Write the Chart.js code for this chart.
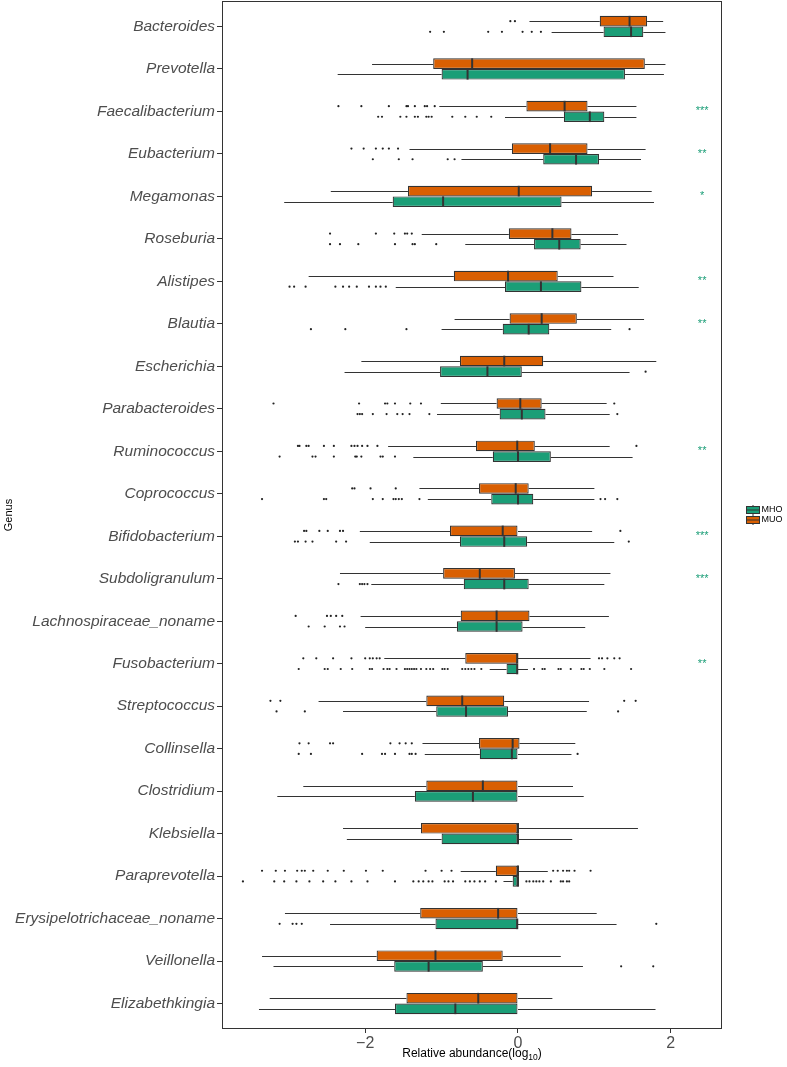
<!DOCTYPE html>
<html>
<head>
<meta charset="utf-8">
<script src="https://cdn.jsdelivr.net/npm/chart.js@4.4.0/dist/chart.umd.min.js"></script>
<style>
  html, body { margin: 0; padding: 0; background: #fff; }
  #wrap { position: relative; width: 787px; height: 1067px; }
</style>
</head>
<body>
<div id="wrap"><canvas id="box_chart"></canvas></div>
<script>
// genera, top to bottom
var genera = ['Bacteroides', 'Prevotella', 'Faecalibacterium', 'Eubacterium', 'Megamonas',
  'Roseburia', 'Alistipes', 'Blautia', 'Escherichia', 'Parabacteroides', 'Ruminococcus',
  'Coprococcus', 'Bifidobacterium', 'Subdoligranulum', 'Lachnospiraceae_noname',
  'Fusobacterium', 'Streptococcus', 'Collinsella', 'Clostridium', 'Klebsiella',
  'Paraprevotella', 'Erysipelotrichaceae_noname', 'Veillonella', 'Elizabethkingia'];

// [lower whisker, q1, median, q3, upper whisker]
var muoBox = [
  [0.15, 1.07, 1.46, 1.69, 1.90], [-1.91, -1.11, -0.60, 1.66, 1.93],
  [-1.03, 0.11, 0.61, 0.91, 1.55], [-1.42, -0.08, 0.42, 0.91, 1.67],
  [-2.45, -1.44, 0.01, 0.97, 1.75], [-1.26, -0.12, 0.45, 0.70, 1.31],
  [-2.74, -0.84, -0.13, 0.52, 1.25], [-0.83, -0.11, 0.31, 0.77, 1.65],
  [-2.05, -0.76, -0.18, 0.33, 1.81], [-1.01, -0.28, 0.03, 0.31, 1.16],
  [-1.70, -0.55, -0.01, 0.22, 1.20], [-1.29, -0.51, -0.03, 0.14, 1.00],
  [-2.07, -0.89, -0.20, 0.00, 0.97], [-2.33, -0.98, -0.50, -0.04, 1.21],
  [-2.06, -0.75, -0.28, 0.15, 1.19], [-1.75, -0.69, -0.01, 0.00, 0.95],
  [-2.61, -1.20, -0.73, -0.18, 0.93], [-1.25, -0.51, -0.07, 0.02, 0.75],
  [-2.81, -1.20, -0.46, 0.00, 0.72], [-2.29, -1.27, 0.00, 0.00, 1.57],
  [-0.75, -0.29, 0.00, 0.00, 0.39], [-3.05, -1.28, -0.26, 0.00, 1.03],
  [-3.35, -1.85, -1.08, -0.20, 0.56], [-3.25, -1.46, -0.52, 0.00, 0.45]
];
var mhoBox = [
  [0.44, 1.12, 1.48, 1.64, 1.93], [-2.36, -1.00, -0.66, 1.40, 1.91],
  [-0.17, 0.60, 0.94, 1.13, 1.55], [-0.74, 0.33, 0.76, 1.06, 1.61],
  [-3.06, -1.64, -0.98, 0.57, 1.78], [-0.69, 0.21, 0.54, 0.82, 1.42],
  [-1.60, -0.17, 0.30, 0.83, 1.58], [-1.00, -0.20, 0.14, 0.41, 1.22],
  [-2.27, -1.02, -0.40, 0.05, 1.46], [-1.06, -0.24, 0.05, 0.36, 1.20],
  [-1.37, -0.33, 0.00, 0.43, 1.50], [-1.18, -0.35, 0.00, 0.20, 1.00],
  [-1.94, -0.76, -0.18, 0.12, 1.26], [-1.92, -0.71, -0.18, 0.14, 1.13],
  [-2.00, -0.80, -0.28, 0.06, 0.88], [-0.37, -0.15, -0.01, 0.00, 0.13],
  [-2.29, -1.07, -0.68, -0.13, 0.90], [-1.22, -0.50, -0.08, 0.00, 0.70],
  [-3.15, -1.35, -0.59, 0.00, 0.86], [-2.24, -1.00, 0.00, 0.00, 0.71],
  [-0.19, -0.07, 0.00, 0.00, 0.00], [-2.46, -1.08, -0.01, 0.00, 1.29],
  [-3.20, -1.62, -1.17, -0.46, 0.85], [-3.39, -1.61, -0.82, 0.00, 1.80]
];

// outliers per genus
var muoOut = [
  [-0.10, -0.04], [],
  [-2.35, -2.05, -1.69, -1.46, -1.44, -1.35, -1.22, -1.19, -1.09],
  [-2.18, -2.02, -1.86, -1.77, -1.69, -1.57], [],
  [-2.46, -1.86, -1.62, -1.48, -1.45, -1.39], [], [], [],
  [-3.20, -2.08, -1.74, -1.71, -1.61, -1.41, -1.27, 1.26],
  [-2.88, -2.86, -2.77, -2.74, -2.54, -2.41, -2.18, -2.14, -2.10, -2.04, -1.97, -1.84, 1.55],
  [-2.17, -2.14, -1.93, -1.60],
  [-2.80, -2.77, -2.60, -2.49, -2.33, -2.29, 1.34], [],
  [-2.91, -2.50, -2.45, -2.38, -2.30],
  [-2.81, -2.64, -2.42, -2.18, -2.00, -1.94, -1.90, -1.85, -1.81, 1.06, 1.10, 1.17, 1.26, 1.33],
  [-3.24, -3.11, 1.39, 1.54],
  [-2.86, -2.74, -2.46, -2.42, -1.67, -1.55, -1.47, -1.39], [], [],
  [-3.35, -3.17, -3.05, -2.89, -2.83, -2.79, -2.68, -2.49, -2.28, -1.99, -1.77, -1.21, -1.00, -0.87,
   0.46, 0.52, 0.59, 0.64, 0.67, 0.74, 0.95],
  [], [], []
];
var mhoOut = [
  [-1.15, -0.97, -0.39, -0.21, 0.06, 0.18, 0.30], [],
  [-1.83, -1.78, -1.54, -1.46, -1.35, -1.31, -1.20, -1.17, -1.13, -0.86, -0.69, -0.54, -0.35],
  [-1.90, -1.56, -1.38, -0.92, -0.83], [],
  [-2.46, -2.33, -2.09, -1.61, -1.38, -1.35, -1.07],
  [-2.99, -2.93, -2.78, -2.39, -2.29, -2.21, -2.11, -1.95, -1.86, -1.80, -1.73],
  [-2.71, -2.26, -1.46, 1.46],
  [1.67],
  [-2.10, -2.07, -2.04, -1.90, -1.72, -1.58, -1.51, -1.42, -1.16, 1.30],
  [-3.12, -2.69, -2.65, -2.41, -2.13, -2.11, -2.05, -1.80, -1.77, -1.61],
  [-3.35, -2.54, -2.51, -1.90, -1.77, -1.63, -1.60, -1.56, -1.52, -1.29, 1.08, 1.14, 1.30],
  [-2.92, -2.88, -2.78, -2.69, -2.38, -2.25, 1.45],
  [-2.35, -2.07, -2.04, -2.01, -1.97],
  [-2.74, -2.53, -2.33, -2.27],
  [-2.87, -2.53, -2.49, -2.32, -2.17, -1.94, -1.91, -1.76, -1.71, -1.68, -1.59, -1.48, -1.45, -1.42,
   -1.39, -1.36, -1.33, -1.27, -1.20, -1.15, -1.11, -0.99, -0.96, -0.92, -0.73, -0.69, -0.65, -0.61,
   -0.57, -0.48, 0.21, 0.32, 0.35, 0.53, 0.56, 0.69, 0.83, 0.86, 0.94, 1.13, 1.48],
  [-3.16, -2.79, 1.31],
  [-2.87, -2.71, -2.04, -1.78, -1.74, -1.61, -1.42, -1.39, -1.34, 0.78], [], [],
  [-3.60, -3.19, -3.06, -2.90, -2.73, -2.55, -2.39, -2.18, -1.97, -1.61, -1.37, -1.30, -1.24, -1.17,
   -1.12, -0.96, -0.91, -0.85, -0.69, -0.63, -0.57, -0.50, -0.43, -0.29, 0.11, 0.15, 0.20, 0.24,
   0.28, 0.33, 0.43, 0.56, 0.59, 0.64, 0.67],
  [-3.12, -2.95, -2.90, -2.83, 1.81],
  [1.35, 1.77], []
];

var signif = ['', '', '***', '**', '*', '', '**', '**', '', '', '**', '', '***', '***', '',
  '**', '', '', '', '', '', '', '', ''];

var xTicks = [-2, 0, 2];

var colors = { MHO: '#1B9E77', MUO: '#D95F02' };
var DODGE = 0.125;      // half of one box, in category units
var STAR_X = 2.41;
var FONT = "'Liberation Sans', Arial, sans-serif";

function boxData(stats) {
  return stats.map(function(s, i) { return { x: [s[1], s[3]], y: i }; });
}
function outData(outs, off) {
  var pts = [];
  outs.forEach(function(list, i) {
    list.forEach(function(v) { pts.push({ x: v, y: i + off }); });
  });
  return pts;
}

var boxExtras = {
  id: 'boxExtras',
  beforeDatasetsDraw: function(chart) {
    // whiskers
    var ctx = chart.ctx, xs = chart.scales.x;
    ctx.save();
    ctx.strokeStyle = '#333';
    ctx.lineWidth = 1;
    [muoBox, mhoBox].forEach(function(stats, d) {
      chart.getDatasetMeta(d).data.forEach(function(bar, i) {
        var s = stats[i], y = Math.round(bar.y) + 0.5;
        ctx.beginPath();
        ctx.moveTo(xs.getPixelForValue(s[0]), y);
        ctx.lineTo(xs.getPixelForValue(s[1]), y);
        ctx.moveTo(xs.getPixelForValue(s[3]), y);
        ctx.lineTo(xs.getPixelForValue(s[4]), y);
        ctx.stroke();
      });
    });
    ctx.restore();
  },
  afterDatasetsDraw: function(chart) {
    var ctx = chart.ctx, xs = chart.scales.x, ys = chart.scales.y;
    ctx.save();
    // medians
    ctx.strokeStyle = '#333';
    ctx.lineWidth = 2;
    [muoBox, mhoBox].forEach(function(stats, d) {
      chart.getDatasetMeta(d).data.forEach(function(bar, i) {
        var m = xs.getPixelForValue(stats[i][2]);
        ctx.beginPath();
        ctx.moveTo(m, bar.y - bar.height / 2);
        ctx.lineTo(m, bar.y + bar.height / 2);
        ctx.stroke();
      });
    });
    // significance
    ctx.fillStyle = colors.MHO;
    ctx.font = '11px ' + FONT;
    ctx.textAlign = 'center';
    ctx.textBaseline = 'middle';
    signif.forEach(function(s, i) {
      if (s) ctx.fillText(s, xs.getPixelForValue(STAR_X), ys.getPixelForValue(i));
    });
    ctx.restore();
  },
  afterDraw: function(chart) {
    var ctx = chart.ctx, a = chart.chartArea;
    ctx.save();
    // panel border
    ctx.strokeStyle = '#333';
    ctx.lineWidth = 1;
    ctx.strokeRect(a.left + 0.5, a.top + 0.5, a.right - a.left - 1, a.bottom - a.top - 1);

    // x title with subscript
    var cx = (a.left + a.right) / 2, by = 1057;
    var p1 = 'Relative abundance(log', p2 = '10', p3 = ')';
    ctx.fillStyle = '#000';
    ctx.textBaseline = 'alphabetic';
    ctx.textAlign = 'left';
    ctx.font = '12px ' + FONT;
    var w1 = ctx.measureText(p1).width, w3 = ctx.measureText(p3).width;
    ctx.font = '8.5px ' + FONT;
    var w2 = ctx.measureText(p2).width;
    var sx = cx - (w1 + w2 + w3) / 2;
    ctx.font = '12px ' + FONT;
    ctx.fillText(p1, sx, by);
    ctx.fillText(p3, sx + w1 + w2, by);
    ctx.font = '8.5px ' + FONT;
    ctx.fillText(p2, sx + w1, by + 3);

    // legend
    var lx = a.right + 24, mid = (a.top + a.bottom) / 2;
    [['MHO', colors.MHO, mid - 5], ['MUO', colors.MUO, mid + 5]].forEach(function(k) {
      var cy = k[2];
      ctx.fillStyle = k[1];
      ctx.fillRect(lx, cy - 3.5, 14, 7);
      ctx.strokeStyle = '#333';
      ctx.lineWidth = 1;
      ctx.strokeRect(lx + 0.5, cy - 3.5, 13, 7);
      ctx.beginPath();
      ctx.moveTo(lx, cy); ctx.lineTo(lx + 14, cy);
      ctx.moveTo(lx + 7, cy - 5); ctx.lineTo(lx + 7, cy - 3.5);
      ctx.moveTo(lx + 7, cy + 3.5); ctx.lineTo(lx + 7, cy + 5);
      ctx.stroke();
      ctx.fillStyle = '#000';
      ctx.font = '9px ' + FONT;
      ctx.textBaseline = 'middle';
      ctx.fillText(k[0], lx + 15.5, cy);
    });
    ctx.restore();
  }
};

var pointStyle = { pointRadius: 1.1, pointBackgroundColor: '#222', pointBorderWidth: 0 };

var config = {
  type: 'bar',
  data: {
    datasets: [
      { label: 'MUO', type: 'bar', data: boxData(muoBox), backgroundColor: colors.MUO,
        borderColor: '#333', borderWidth: 1.2, borderSkipped: false,
        categoryPercentage: 0.5, barPercentage: 1.0 },
      { label: 'MHO', type: 'bar', data: boxData(mhoBox), backgroundColor: colors.MHO,
        borderColor: '#333', borderWidth: 1.2, borderSkipped: false,
        categoryPercentage: 0.5, barPercentage: 1.0 },
      Object.assign({ label: 'MUO outliers', type: 'scatter', data: outData(muoOut, -DODGE) }, pointStyle),
      Object.assign({ label: 'MHO outliers', type: 'scatter', data: outData(mhoOut, DODGE) }, pointStyle)
    ]
  },
  options: {
    indexAxis: 'y',
    responsive: true,
    maintainAspectRatio: false,
    animation: false,
    layout: { autoPadding: false, padding: { top: 1, right: 65, bottom: 0, left: 0 } },
    plugins: { legend: { display: false }, tooltip: { enabled: false } },
    scales: {
      x: {
        type: 'linear', min: -3.874, max: 2.67,
        afterBuildTicks: function(axis) { axis.ticks = xTicks.map(function(v) { return { value: v }; }); },
        afterFit: function(axis) { axis.height = 38; axis.paddingLeft = 0; axis.paddingRight = 0; },
        ticks: {
          callback: function(v) { return (v < 0 ? '\u2212' : '') + Math.abs(v); },
          font: { family: FONT, size: 16 }, color: '#4d4d4d', padding: 1
        },
        grid: { drawOnChartArea: false, tickLength: 4, tickColor: '#333' },
        border: { display: false }
      },
      y: {
        type: 'linear', reverse: true, min: -0.6, max: 23.6, offset: false,
        afterBuildTicks: function(axis) { axis.ticks = genera.map(function(g, i) { return { value: i }; }); },
        afterFit: function(axis) { axis.width = 222; axis.paddingTop = 0; axis.paddingBottom = 0; },
        ticks: {
          callback: function(v) { return genera[v]; },
          font: { family: FONT, size: 15.5, style: 'italic' }, color: '#4d4d4d',
          padding: 2, autoSkip: false
        },
        grid: { offset: false, drawOnChartArea: false, tickLength: 5, tickColor: '#333' },
        border: { display: false },
        title: { display: true, text: 'Genus', font: { family: FONT, size: 11 }, color: '#000', padding: 2 }
      }
    }
  },
  plugins: [boxExtras]
};

window.chart = new Chart(document.getElementById('box_chart').getContext('2d'), config);
</script>
</body>
</html>
